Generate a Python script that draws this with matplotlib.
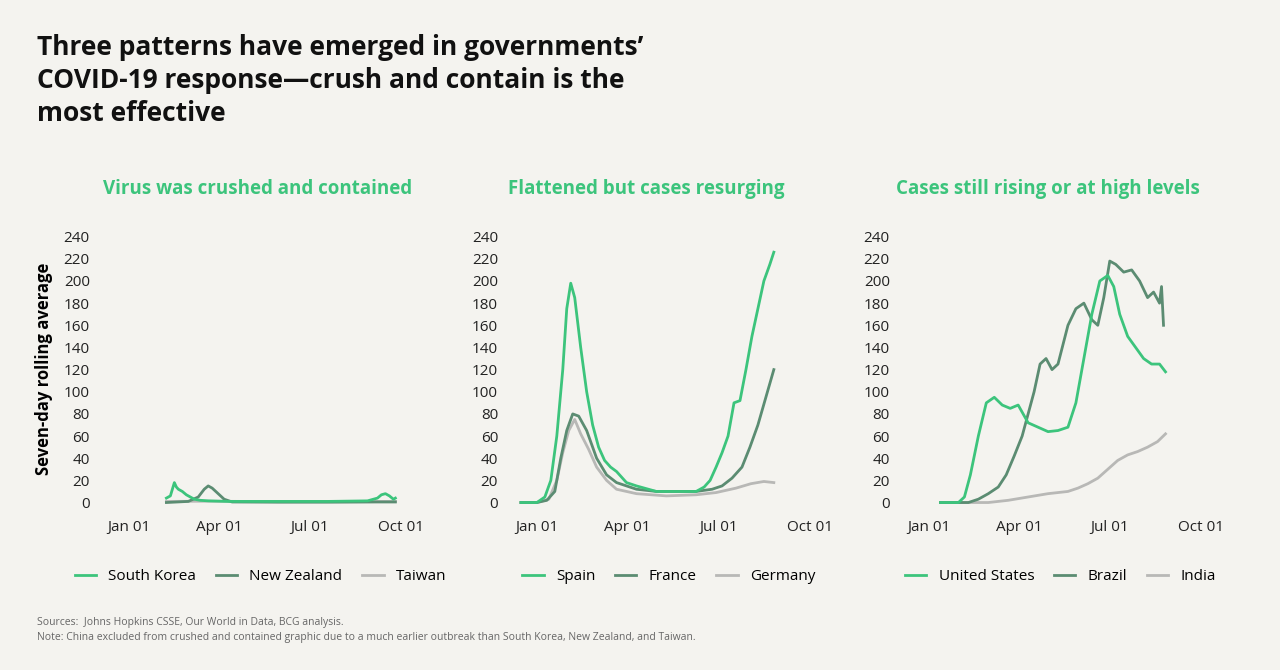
import matplotlib.pyplot as plt
from matplotlib.lines import Line2D

plt.rcParams['font.family'] = ['Open Sans', 'DejaVu Sans']
BG = '#f4f3ef'
G1, G2, G3 = '#3cc47c', '#5b8c72', '#b8b8b6'

xticks = [0, 91, 182, 274]
xlabels = ['Jan 01', 'Apr 01', 'Jul 01', 'Oct 01']
yticks = list(range(0, 241, 20))

# Panel 1
kor_d = [38, 42, 46, 48, 50, 54, 58, 62, 66, 72, 80, 100, 150, 200, 240, 250, 254, 258, 262, 266, 268]
kor_v = [4, 6, 18, 14, 12, 10, 7, 5, 3, 2, 1.5, 1, 1, 1, 1.5, 4, 7, 8, 6, 3, 4]
nz_d = [38, 60, 70, 76, 80, 84, 90, 96, 104, 150, 200, 250, 268]
nz_v = [0, 1, 5, 12, 15, 13, 8, 3, 0.5, 0.3, 0.3, 0.5, 0.5]
tw_d = [38, 80, 150, 268]
tw_v = [1, 1.2, 0.8, 1]
# Panel 2
esp_d = [-16, 0, 8, 14, 20, 26, 30, 34, 38, 44, 50, 56, 62, 68, 74, 80, 90, 100, 120, 140, 160, 168, 174, 180, 186, 192, 198, 204, 210, 216, 222, 228, 234, 238]
esp_v = [0, 0, 5, 20, 60, 120, 175, 198, 185, 140, 100, 70, 50, 38, 32, 28, 18, 15, 10, 10, 10, 14, 20, 32, 45, 60, 90, 92, 120, 150, 175, 200, 215, 226]
fra_d = [-16, 0, 10, 18, 24, 30, 36, 42, 50, 60, 70, 80, 90, 100, 120, 140, 160, 176, 186, 196, 206, 214, 222, 230, 238]
fra_v = [0, 0, 2, 10, 40, 65, 80, 78, 65, 40, 25, 18, 15, 12, 10, 10, 10, 12, 15, 22, 32, 50, 70, 95, 120]
ger_d = [-16, 0, 12, 20, 26, 32, 38, 44, 52, 60, 70, 80, 100, 130, 160, 180, 200, 215, 228, 238]
ger_v = [0, 0, 3, 20, 45, 65, 75, 62, 48, 32, 20, 12, 8, 6, 7, 9, 13, 17, 19, 18]
# Panel 3
usa_d = [12, 30, 36, 42, 50, 58, 66, 74, 82, 90, 100, 110, 120, 130, 140, 148, 156, 164, 172, 180, 186, 192, 200, 208, 216, 224, 232, 238]
usa_v = [0, 0, 5, 25, 60, 90, 95, 88, 85, 88, 72, 68, 64, 65, 68, 90, 130, 170, 200, 205, 195, 170, 150, 140, 130, 125, 125, 118]
bra_d = [12, 40, 50, 60, 70, 78, 86, 94, 100, 106, 112, 118, 124, 130, 140, 148, 156, 164, 170, 176, 182, 188, 196, 204, 212, 220, 226, 232, 234, 236]
bra_v = [0, 0, 3, 8, 14, 25, 42, 60, 80, 100, 125, 130, 120, 125, 160, 175, 180, 165, 160, 185, 218, 215, 208, 210, 200, 185, 190, 180, 195, 160]
ind_d = [12, 60, 80, 100, 120, 140, 150, 160, 170, 180, 190, 200, 210, 220, 230, 238]
ind_v = [0, 0, 2, 5, 8, 10, 13, 17, 22, 30, 38, 43, 46, 50, 55, 62]

panels = [
    ('Virus was crushed and contained',
     [('South Korea', kor_d, kor_v, G1), ('New Zealand', nz_d, nz_v, G2), ('Taiwan', tw_d, tw_v, G3)]),
    ('Flattened but cases resurging',
     [('Spain', esp_d, esp_v, G1), ('France', fra_d, fra_v, G2), ('Germany', ger_d, ger_v, G3)]),
    ('Cases still rising or at high levels',
     [('United States', usa_d, usa_v, G1), ('Brazil', bra_d, bra_v, G2), ('India', ind_d, ind_v, G3)]),
]

fig = plt.figure(figsize=(12.8, 6.7), dpi=100, facecolor=BG)
lefts = [0.081, 0.400, 0.706]
title_x = [0.201, 0.505, 0.819]
for i, (title, series) in enumerate(panels):
    ax = fig.add_axes([lefts[i], 0.245, 0.245, 0.41])
    ax.set_facecolor(BG)
    for name, d, v, c in reversed(series):
        ax.plot(d, v, color=c, lw=2)
    ax.set_xlim(-25, 290)
    ax.set_ylim(-3, 245)
    ax.set_xticks(xticks, xlabels)
    ax.set_yticks(yticks)
    for s in ax.spines.values():
        s.set_visible(False)
    ax.tick_params(length=0, labelsize=11, colors='#222222', pad=10)
    fig.text(title_x[i], 0.71, title, ha='center', fontsize=13.5,
             fontweight='bold', color='#3cc47c')
    handles = [Line2D([], [], color=c, lw=2) for _, _, _, c in series]
    ax.legend(handles, [s[0] for s in series], loc='upper center', bbox_to_anchor=(0.5, -0.18),
              ncol=3, frameon=False, fontsize=11, handlelength=1.4, columnspacing=1.3)
    if i == 0:
        ax.set_ylabel('Seven-day rolling average', fontsize=12, fontweight='bold', labelpad=8)

fig.text(0.029, 0.81, "Three patterns have emerged in governments’\nCOVID-19 response—crush and contain is the\nmost effective",
         fontsize=19, fontweight='bold', va='bottom', linespacing=1.3, color='#111111')
fig.text(0.029, 0.04, "Sources:  Johns Hopkins CSSE, Our World in Data, BCG analysis.\nNote: China excluded from crushed and contained graphic due to a much earlier outbreak than South Korea, New Zealand, and Taiwan.",
         fontsize=7.5, color='#666666', va='bottom', linespacing=1.5)
fig.savefig('out.png', facecolor=BG)
